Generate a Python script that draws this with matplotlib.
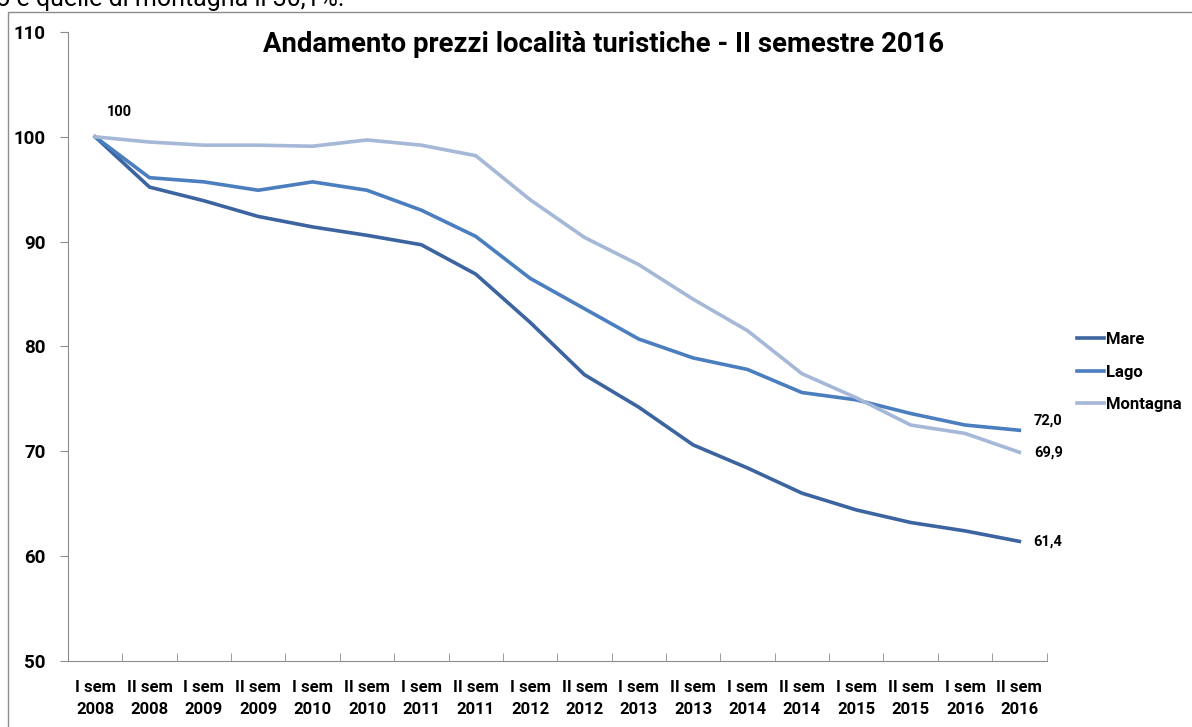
import matplotlib.pyplot as plt
from matplotlib.patches import Rectangle

plt.rcParams['font.family'] = ['Roboto', 'DejaVu Sans']

periodi = ["I sem\n2008", "II sem\n2008", "I sem\n2009", "II sem\n2009", "I sem\n2010",
           "II sem\n2010", "I sem\n2011", "II sem\n2011", "I sem\n2012", "II sem\n2012",
           "I sem\n2013", "II sem\n2013", "I sem\n2014", "II sem\n2014", "I sem\n2015",
           "II sem\n2015", "I sem\n2016", "II sem\n2016"]
mare = [100, 95.2, 93.9, 92.4, 91.4, 90.6, 89.7, 86.9, 82.3, 77.3, 74.2, 70.6, 68.4, 66.0,
        64.4, 63.2, 62.4, 61.4]
lago = [100, 96.1, 95.7, 94.9, 95.7, 94.9, 93.0, 90.5, 86.5, 83.6, 80.7, 78.9, 77.8, 75.6,
        74.9, 73.6, 72.5, 72.0]
montagna = [100, 99.5, 99.2, 99.2, 99.1, 99.7, 99.2, 98.2, 94.0, 90.4, 87.8, 84.5, 81.5, 77.4,
            75.1, 72.5, 71.7, 69.9]
serie = [("Mare", mare, "#3B64A0"), ("Lago", lago, "#4A7EBF"), ("Montagna", montagna, "#A5B8D8")]

fig = plt.figure(figsize=(11.92, 7.27), dpi=100)
ax = fig.add_axes([0.057, 0.091, 0.821, 0.865])

# cornice del grafico e testo tagliato sopra
fig.patches.append(Rectangle((8 / 1192, -0.1), 1.2, 1.1 - 12 / 727, transform=fig.transFigure,
                             fill=False, edgecolor="#8c8c8c", linewidth=1.0))
fig.text(-0.003, 1.0 + 0.002, "o e quelle di montagna il 30,1%.", fontsize=18, va="center",
         ha="left")

x = list(range(len(periodi)))
for nome, valori, colore in serie:
    ax.plot(x, valori, color=colore, linewidth=2.6, label=nome)

etichette = {"fontsize": 10.5, "fontweight": "bold", "ha": "left", "va": "center",
             "textcoords": "offset points"}
ax.annotate("100", (0, 100), xytext=(8.5, 18), **etichette)
ax.annotate("72,0", (x[-1], lago[-1]), xytext=(10, 7), **etichette)
ax.annotate("69,9", (x[-1], montagna[-1]), xytext=(11, 0), **etichette)
ax.annotate("61,4", (x[-1], mare[-1]), xytext=(10, 0), **etichette)

ax.set_xlim(-0.5, len(periodi) - 0.5)
ax.set_ylim(50, 110)
ax.set_yticks(range(50, 111, 10))
ax.set_xticks(x)
ax.set_xticklabels(periodi, fontsize=12, fontweight="bold", linespacing=1.6)
ax.set_xticks([i - 0.5 for i in range(len(periodi) + 1)], minor=True)
ax.tick_params(axis="x", which="major", length=0, pad=14)
ax.tick_params(axis="x", which="minor", length=6, color="#8c8c8c", direction="in")
ax.tick_params(axis="y", length=6, color="#8c8c8c", labelsize=13.5, pad=10)
for lab in ax.get_yticklabels():
    lab.set_fontweight("bold")
for s in ["top", "right"]:
    ax.spines[s].set_visible(False)
for s in ["left", "bottom"]:
    ax.spines[s].set_color("#8c8c8c")

fig.text(604 / 1192, 1 - 45 / 727, "Andamento prezzi località turistiche - II semestre 2016",
         fontsize=19.8, fontweight="bold", ha="center", va="center")

fig.legend(loc="center left", bbox_to_anchor=(1062 / 1192, 1 - 372 / 727), frameon=False,
           handlelength=1.6, handletextpad=0.15, labelspacing=1.05,
           prop={"weight": "bold", "size": 12})

fig.savefig("out.png", dpi=100)
